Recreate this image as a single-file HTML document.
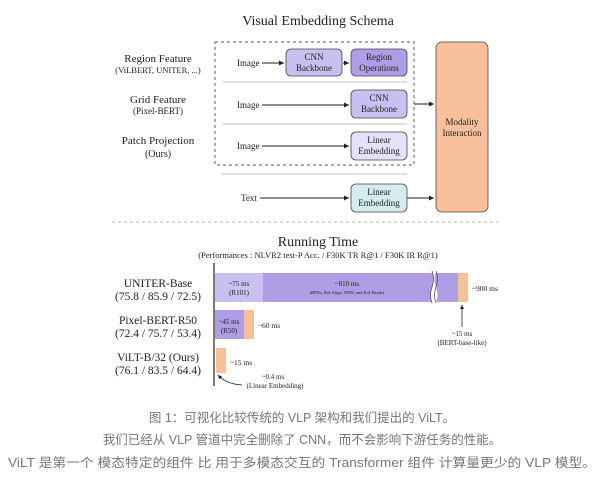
<!DOCTYPE html>
<html><head><meta charset="utf-8"><style>
html,body{margin:0;padding:0;background:#fff;width:605px;height:481px;overflow:hidden}
svg{display:block}
.s{font-family:"Liberation Serif",serif;fill:#222}
.c{font-family:"Liberation Sans","Noto Sans CJK SC",sans-serif;fill:#777;font-size:12.5px}
</style></head><body>
<svg width="605" height="481" viewBox="0 0 605 481">
<defs><marker id="a" markerWidth="6" markerHeight="6" refX="5" refY="3" orient="auto"><path d="M0,0.5L5,3L0,5.5z" fill="#222"/></marker></defs>
<text class="s" x="318" y="25" font-size="14" text-anchor="middle">Visual Embedding Schema</text>
<rect x="215" y="42" width="199" height="123" fill="none" stroke="#777" stroke-dasharray="3,3" stroke-width="1.2"/>
<line x1="223" y1="82" x2="407" y2="82" stroke="#ccc" stroke-width="1.2"/>
<line x1="223" y1="124" x2="407" y2="124" stroke="#ccc" stroke-width="1.2"/>
<line x1="221" y1="174" x2="407" y2="174" stroke="#ccc" stroke-width="1.2"/>
<g class="s" text-anchor="middle" font-size="11">
<text x="158" y="62">Region Feature</text><text x="158" y="73" font-size="8.5">(ViLBERT, UNITER, ...)</text>
<text x="158" y="103">Grid Feature</text><text x="158" y="114" font-size="9">(Pixel-BERT)</text>
<text x="158" y="144">Patch Projection</text><text x="158" y="157" font-size="10">(Ours)</text>
</g>
<g class="s" font-size="9">
<text x="237" y="66">Image</text><text x="237" y="108">Image</text><text x="237" y="149">Image</text><text x="241" y="201">Text</text>
</g>
<g stroke="#222" stroke-width="1" marker-end="url(#a)">
<line x1="262" y1="63" x2="284" y2="63"/><line x1="343" y1="63" x2="349" y2="63"/>
<line x1="262" y1="105" x2="349" y2="105"/><line x1="262" y1="146" x2="349" y2="146"/>
<line x1="260" y1="198" x2="349" y2="198"/>
<line x1="414" y1="104" x2="434" y2="104"/><line x1="407" y1="198" x2="434" y2="198"/>
</g>
<g stroke="#444" stroke-width="0.8">
<rect x="286" y="49" width="56" height="27" rx="5" fill="#c9bff0"/>
<rect x="351" y="49" width="56" height="27" rx="5" fill="#ad9ee6"/>
<rect x="351" y="90" width="56" height="28" rx="5" fill="#c9bff0"/>
<rect x="351" y="132" width="56" height="28" rx="5" fill="#e6e1f8"/>
<rect x="351" y="184" width="56" height="28" rx="5" fill="#d3ecec"/>
<rect x="436" y="42" width="52" height="170" rx="6" fill="#f8c09a"/>
</g>
<g class="s" font-size="9" text-anchor="middle">
<text x="314" y="60">CNN</text><text x="314" y="71">Backbone</text>
<text x="379" y="60">Region</text><text x="379" y="71">Operations</text>
<text x="379" y="101">CNN</text><text x="379" y="112">Backbone</text>
<text x="379" y="143">Linear</text><text x="379" y="154">Embedding</text>
<text x="379" y="195">Linear</text><text x="379" y="206">Embedding</text>
<text x="462" y="125">Modality</text><text x="462" y="136">Interaction</text>
</g>
<line x1="112" y1="222" x2="498" y2="222" stroke="#ccc" stroke-width="1.5" stroke-dasharray="3,3"/>
<text class="s" x="318" y="246" font-size="14" text-anchor="middle">Running Time</text>
<text class="s" x="318" y="258" font-size="8.5" text-anchor="middle">(Performances : NLVR2 test-P Acc. / F30K TR R@1 / F30K IR R@1)</text>
<line x1="214" y1="263" x2="214" y2="386" stroke="#333" stroke-width="1.3"/>
<rect x="215" y="273" width="48" height="29" fill="#c9bff0"/>
<rect x="263" y="273" width="195" height="29" fill="#ad9ee6"/>
<path d="M432,271 q3,8 0,16 q-3,8 0,16 L436,303 q3,-8 0,-16 q-3,-8 0,-16z" fill="#fff"/>
<path d="M432,271 q3,8 0,16 q-3,8 0,16 M436,271 q3,8 0,16 q-3,8 0,16" fill="none" stroke="#444" stroke-width="0.7"/>
<rect x="458" y="273" width="10" height="29" fill="#f8c09a"/>
<rect x="215" y="310" width="29" height="29" fill="#ad9ee6"/>
<rect x="244" y="310" width="10" height="29" fill="#f8c09a"/>
<rect x="216" y="348" width="10" height="25" fill="#f8c09a"/>
<g class="s" text-anchor="middle" font-size="11.5">
<text x="158" y="287">UNITER-Base</text><text x="158" y="300">(75.8 / 85.9 / 72.5)</text>
<text x="158" y="324">Pixel-BERT-R50</text><text x="158" y="337">(72.4 / 75.7 / 53.4)</text>
<text x="158" y="361">ViLT-B/32 (Ours)</text><text x="158" y="374">(76.1 / 83.5 / 64.4)</text>
</g>
<g class="s" font-size="7" text-anchor="middle">
<text x="239" y="286">~75 ms</text><text x="239" y="295">(R101)</text>
<text x="347" y="286">~810 ms</text><text x="347" y="294" font-size="4.5">(RPNs, RoI Align, NMS, and RoI Heads)</text>
<text x="229" y="324">~45 ms</text><text x="229" y="333">(R50)</text>
<text x="462" y="336">~15 ms</text><text x="462" y="345">(BERT-base-like)</text>
<text x="273" y="379">~0.4 ms</text>
<text x="275" y="388">(Linear Embedding)</text>
</g>
<g class="s" font-size="7.5">
<text x="472" y="291">~900 ms</text><text x="258" y="328">~60 ms</text><text x="230" y="365">~15 ms</text>
</g>
<line x1="462" y1="327" x2="462" y2="305" stroke="#222" stroke-width="0.8" marker-end="url(#a)"/>
<path d="M242,385 Q226,384 218,375" fill="none" stroke="#222" stroke-width="0.8" marker-end="url(#a)"/>
<g class="c" text-anchor="middle">
<text x="302" y="422">图 1：可视化比较传统的 VLP 架构和我们提出的 ViLT。</text>
<text x="302" y="444">我们已经从 VLP 管道中完全删除了 CNN，而不会影响下游任务的性能。</text>
<text x="302" y="467" textLength="588" lengthAdjust="spacingAndGlyphs">ViLT 是第一个 模态特定的组件 比 用于多模态交互的 Transformer 组件 计算量更少的 VLP 模型。</text>
</g>
</svg>
</body></html>
